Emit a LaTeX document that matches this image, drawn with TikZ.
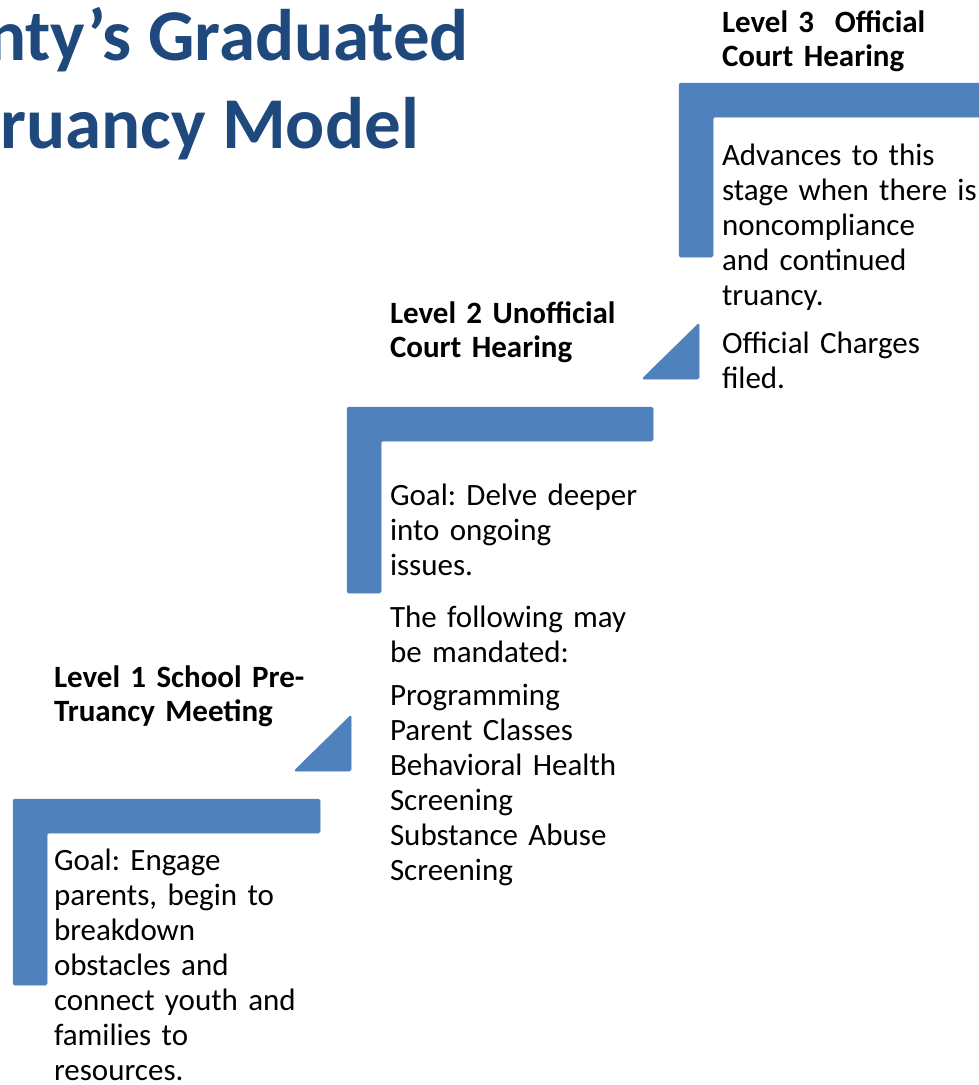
\documentclass[tikz,border=0pt]{standalone}
\usepackage{fontspec}
\setmainfont{Carlito}
\frenchspacing

\definecolor{stepblue}{HTML}{4F81BD}
\definecolor{titleblue}{HTML}{1F497D}

\begin{document}
\begin{tikzpicture}[
    x=1pt,
    y=-1pt,
    every node/.style={inner sep=0pt, outer sep=0pt, anchor=base west},
    heading/.style={font=\fontsize{31}{34}\selectfont\bfseries, text width=300pt, align=left},
    body/.style={font=\fontsize{31}{35}\selectfont, text width=300pt, align=left},
    titletext/.style={anchor=base east, font=\fontsize{73}{88}\selectfont\bfseries, text=titleblue},
    stair/.style={fill=stepblue, draw=stepblue, line width=0.5pt, rounded corners=1.5pt}
]

\useasboundingbox (0,0) rectangle (979,1085);

% ============================================================
% Titel
% ============================================================

\node[titletext] (title1) at (469,60) {nty’s Graduated};
\node[titletext] (title2) at (419,148) {ruancy Model};

% ============================================================
% Stufen (L-Winkel, Balkenbreite 34)
% ============================================================

\def\t{34}

% Stufe 1
\filldraw[stair]
    (13,799) -- (320,799) -- (320,799+\t) -- (13+\t,799+\t)
    -- (13+\t,985) -- (13,985) -- cycle;

% Stufe 2
\filldraw[stair]
    (347,407) -- (653,407) -- (653,407+\t) -- (347+\t,407+\t)
    -- (347+\t,593) -- (347,593) -- cycle;

% Stufe 3 (rechts angeschnitten)
\filldraw[stair]
    (679,83) -- (990,83) -- (990,83+\t) -- (679+\t,83+\t)
    -- (679+\t,257) -- (679,257) -- cycle;

% ============================================================
% Keile zwischen den Stufen
% ============================================================

\filldraw[stair] (294,771) -- (351,771) -- (351,715) -- cycle;
\filldraw[stair] (642,379) -- (699,379) -- (699,323) -- cycle;

% ============================================================
% Level 1
% ============================================================

\node[heading] (head1) at (54,687)
    {Level 1 School Pre-\\
     Truancy Meeting};

\node[body] (goal1) at (54,870)
    {Goal: Engage\\
     parents, begin to\\
     breakdown\\
     obstacles and\\
     connect youth and\\
     families to\\
     resources.};

% ============================================================
% Level 2
% ============================================================

\node[heading] (head2) at (390,323)
    {Level 2 Unofficial\\
     Court Hearing};

\node[body] (goal2) at (390,505)
    {Goal: Delve deeper\\
     into ongoing\\
     issues.};

\node[body] (mandate2) at (390,627)
    {The following may\\
     be mandated:};

\node[body] (list2) at (390,705)
    {Programming\\
     Parent Classes\\
     Behavioral Health\\
     Screening\\
     Substance Abuse\\
     Screening};

% ============================================================
% Level 3
% ============================================================

\node[heading] (head3) at (722,32)
    {Level 3~ Official\\
     Court Hearing};

\node[body] (advance3) at (722,165)
    {Advances to this\\
     stage when there is\\
     noncompliance\\
     and continued\\
     truancy.};

\node[body] (charges3) at (722,353)
    {Official Charges\\
     filed.};

\end{tikzpicture}
\end{document}
